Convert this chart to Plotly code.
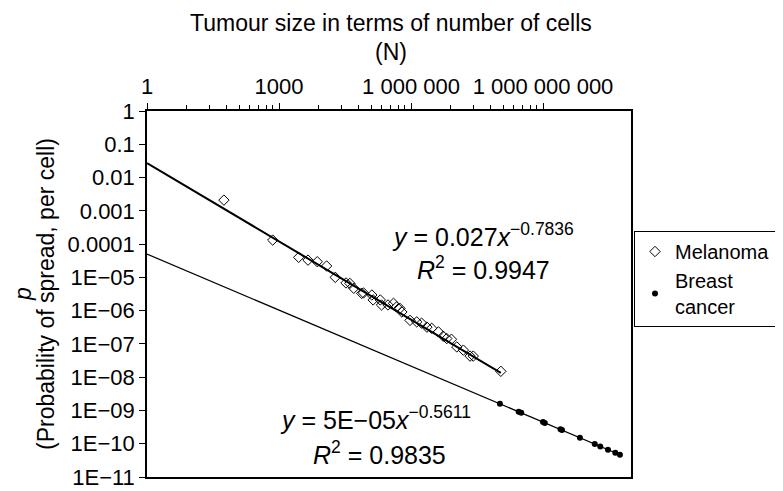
import numpy as np
import plotly.graph_objects as go

# ---- data ----
mel_N = [56, 720, 2800, 4560, 7400, 12100, 19000, 33300, 40700, 50000, 75900, 83200,
         1.29e5, 1.38e5, 2.0e5, 2.14e5, 3.0e5, 4.0e5, 4.7e5, 5.6e5, 6.2e5, 9.5e5,
         1.35e6, 1.74e6, 2.3e6, 2.95e6, 4.2e6, 5.4e6, 6.5e6, 8.3e6, 1.1e7, 1.55e7,
         2.2e7, 2.6e7, 1.1e8]
mel_p = [2.1e-3, 1.32e-4, 4.0e-5, 3.3e-5, 2.95e-5, 2.2e-5, 1.0e-5, 6.8e-6, 6.6e-6, 4.7e-6,
         3.3e-6, 3.4e-6, 2.95e-6, 2.1e-6, 2.1e-6, 1.48e-6, 1.48e-6, 1.66e-6, 1.29e-6, 1.17e-6,
         9.1e-7, 5.1e-7, 4.6e-7, 4.2e-7, 3.2e-7, 2.95e-7, 2.3e-7, 1.7e-7, 1.45e-7, 1.38e-7,
         8.1e-8, 6.5e-8, 4.3e-8, 4.3e-8, 1.5e-8]

br_N = [1.05e8, 2.8e8, 3.2e8, 1.0e9, 1.1e9, 2.5e9, 2.7e9, 6.9e9, 1.5e10, 2.0e10, 3.0e10, 4.4e10, 5.6e10]
br_p = [1.6e-9, 9.1e-10, 8.5e-10, 4.5e-10, 4.2e-10, 2.7e-10, 2.6e-10, 1.5e-10, 9.8e-11,
        8.3e-11, 6.6e-11, 5.4e-11, 4.7e-11]

# power-law trendlines shown on the chart: y = a * x^b
mel_a, mel_b = 0.027, -0.7836
br_a, br_b = 5e-05, -0.5611

x_tickvals = [1, 1e3, 1e6, 1e9]
x_ticktext = ["1", "1000", "1 000 000", "1 000 000 000"]
y_tickvals = [1, 0.1, 0.01, 0.001, 0.0001, 1e-5, 1e-6, 1e-7, 1e-8, 1e-9, 1e-10, 1e-11]
y_ticktext = ["1", "0.1", "0.01", "0.001", "0.0001", "1E\u221205", "1E\u221206", "1E\u221207",
              "1E\u221208", "1E\u221209", "1E\u221210", "1E\u221211"]

FONT = "Liberation Sans, Arial, Helvetica, sans-serif"
FS_TICK = 22
FS_TITLE = 23
FS_EQ = 25

mel_x = np.logspace(0, np.log10(max(mel_N)), 100)
br_x = np.logspace(0, np.log10(max(br_N)), 100)

fig = go.Figure()
fig.add_trace(go.Scatter(x=mel_x, y=mel_a * mel_x ** mel_b, mode="lines",
                         line=dict(color="black", width=2), showlegend=False, hoverinfo="skip"))
fig.add_trace(go.Scatter(x=br_x, y=br_a * br_x ** br_b, mode="lines",
                         line=dict(color="black", width=1.3), showlegend=False, hoverinfo="skip"))
fig.add_trace(go.Scatter(x=mel_N, y=mel_p, mode="markers", name="Melanoma",
                         marker=dict(symbol="diamond-open", size=8, color="black",
                                     line=dict(width=1, color="black"))))
fig.add_trace(go.Scatter(x=br_N, y=br_p, mode="markers", name="Breast<br>cancer",
                         marker=dict(symbol="circle", size=6, color="black")))

minor_x = [k ** 3 * 10 ** (3 * m) for m in range(3) for k in range(2, 10)]

# page has an 8px body margin: figure is offset by OFF px
OFF = 8
W, H = 783 - OFF, 491 - OFF
L, R, T, B = 147 - OFF, 152, 111 - OFF, 14
pw, ph = W - L - R, H - T - B

def px(x):  # page x -> paper
    return (x - OFF - L) / pw

def py(y):  # page y -> paper
    return (H - B - (y - OFF)) / ph

def ann(text, x, y, size, angle=0):
    return dict(text=text, x=px(x), y=py(y), xref="paper", yref="paper", showarrow=False,
                xanchor="center", yanchor="middle", textangle=angle, font=dict(size=size))

fig.update_layout(
    width=W, height=H,
    margin=dict(l=L, r=R, t=T, b=B, autoexpand=False),
    paper_bgcolor="white", plot_bgcolor="white",
    font=dict(family=FONT, size=FS_TICK, color="black"),
    xaxis=dict(type="log", range=[0, 11], side="top", showgrid=False, zeroline=False,
               tickmode="array", tickvals=x_tickvals, ticktext=x_ticktext,
               ticks="outside", ticklen=6, tickwidth=1, tickcolor="black",
               showline=True, linecolor="black", linewidth=1.5, mirror=True,
               minor=dict(tickvals=minor_x, ticks="outside", ticklen=4, tickcolor="black",
                          showgrid=False),
               tickfont=dict(size=FS_TICK)),
    yaxis=dict(type="log", range=[-11, 0], showgrid=False, zeroline=False,
               tickmode="array", tickvals=y_tickvals, ticktext=y_ticktext,
               ticks="outside", ticklen=6, tickwidth=1, tickcolor="black",
               showline=True, linecolor="black", linewidth=1.5, mirror=True,
               tickfont=dict(size=FS_TICK)),
    legend=dict(x=px(634), y=py(231), xanchor="left", yanchor="top",
                bordercolor="black", borderwidth=1, bgcolor="white",
                font=dict(size=20), itemsizing="trace", tracegroupgap=6),
    annotations=[
        ann("Tumour size in terms of number of cells", 391, 23, FS_TITLE),
        ann("(N)", 391, 52, FS_TITLE),
        ann("<i>p</i>", 23, 294, FS_TITLE, -90),
        ann("(Probability of spread, per cell)", 46, 294, FS_TITLE, -90),
        ann("<i>y</i> = 0.027<i>x</i><sup>\u22120.7836</sup>", 483, 235, FS_EQ),
        ann("<i>R</i><sup>2</sup> = 0.9947", 483, 268, FS_EQ),
        ann("<i>y</i> = 5E\u221205<i>x</i><sup>\u22120.5611</sup>", 375, 418, FS_EQ),
        ann("<i>R</i><sup>2</sup> = 0.9835", 379, 453, FS_EQ),
    ],
)

fig.write_html("out.html")
